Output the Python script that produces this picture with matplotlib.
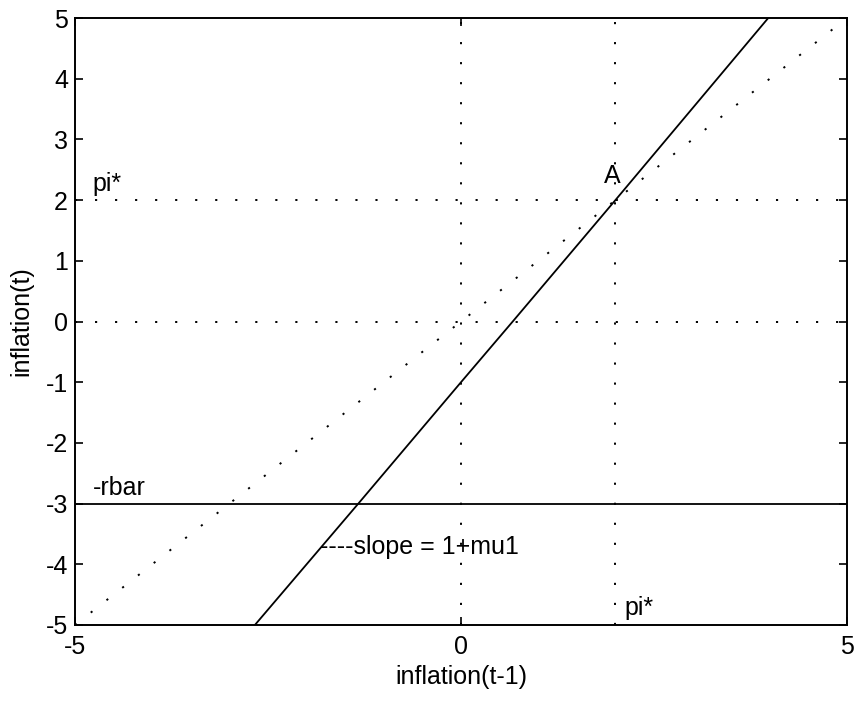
import matplotlib
matplotlib.use("Agg")
import matplotlib.pyplot as plt

plt.rcParams['font.family'] = ['Liberation Sans', 'DejaVu Sans']

# solid Phillips-type line
line_x = [-2.67, -1.33, 0.0, 0.67, 2.0, 3.98]
line_y = [-5.0, -3.0, -1.0, 0.0, 2.0, 5.0]

# 45 degree dotted line
diag_x = [-5, 5]
diag_y = [-5, 5]

pi_star = 2
rbar = 3

xlim = (-5, 5)
ylim = (-5, 5)
xticks = [-5, 0, 5]
yticks = [-5, -4, -3, -2, -1, 0, 1, 2, 3, 4, 5]
xtick_labels = ['-5', '0', '5']
ytick_labels = [str(v) for v in yticks]

dot = (0, (1.1, 9.2))
dlw = 1.4

fig = plt.figure(figsize=(8.6, 7.02), dpi=100)
W, H = 860, 702
ax = fig.add_axes([75 / W, 1 - 625 / H, (847 - 75) / W, (625 - 18) / H])

ax.plot(diag_x, diag_y, color='k', lw=dlw, linestyle=dot)
ax.axhline(pi_star, color='k', lw=dlw, linestyle=dot)
ax.axhline(0, color='k', lw=dlw, linestyle=dot)
ax.axvline(0, color='k', lw=dlw, linestyle=dot)
ax.axvline(pi_star, color='k', lw=dlw, linestyle=dot)
ax.axhline(-rbar, color='k', lw=1.3)
ax.plot(line_x, line_y, color='k', lw=1.3)

fs = 18
ax.text(-4.77, 2.15, 'pi*', fontsize=fs, va='baseline', ha='left')
ax.text(1.96, 2.28, 'A', fontsize=fs, va='baseline', ha='center')
ax.text(-4.77, -2.86, '-rbar', fontsize=fs, va='baseline', ha='left')
ax.text(-1.83, -3.83, '----slope = 1+mu1', fontsize=fs, va='baseline', ha='left')
ax.text(2.12, -4.84, 'pi*', fontsize=fs, va='baseline', ha='left')

ax.set_xlim(*xlim)
ax.set_ylim(*ylim)
ax.set_xticks(xticks, xtick_labels)
ax.set_yticks(yticks, ytick_labels)
ax.tick_params(direction='in', top=True, right=True, labelsize=fs, length=6, width=1.2)
ax.tick_params(axis='x', pad=7)
ax.tick_params(axis='y', pad=5)
for s in ax.spines.values():
    s.set_linewidth(1.4)
ax.set_xlabel('inflation(t-1)', fontsize=fs, labelpad=4.5)
ax.set_ylabel('inflation(t)', fontsize=fs, labelpad=9)

fig.savefig('out.png', dpi=100)
